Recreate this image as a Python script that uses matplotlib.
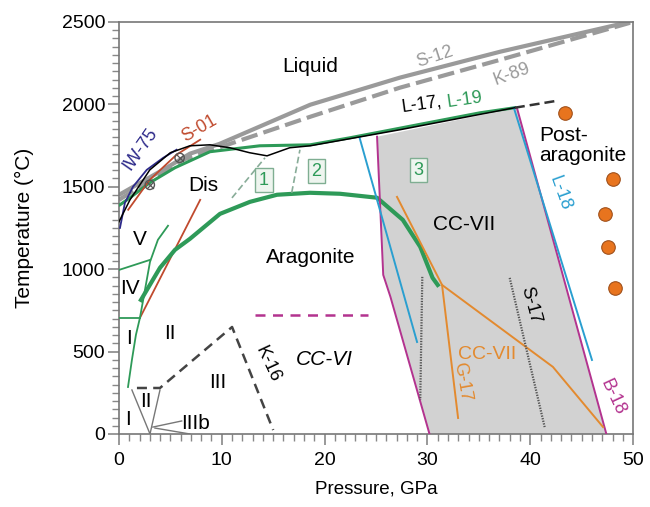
import numpy as np
import matplotlib.pyplot as plt
from matplotlib.ticker import MultipleLocator

plt.rcParams['font.family'] = ['Liberation Sans', 'DejaVu Sans']

# melting curves
s12_p = [0, 4.5, 6.9, 9.8, 18.6, 27.3, 37.1, 49.7]
s12_t = [1450, 1610, 1700, 1760, 1997, 2161, 2319, 2500]
k89_p = [0, 6.2, 18.6, 27.3, 37.1, 49.7]
k89_t = [1420, 1663, 1924, 2100, 2270, 2494]

# L-17 (black)
l17_p = [0, 1.07, 3.0, 5.0, 6.9, 8.85, 10.8, 12.7, 14.4, 16.6, 18.6, 27.3, 38.5]
l17_t = [1287, 1420, 1602, 1706, 1748, 1754, 1736, 1706, 1687, 1736, 1748, 1845, 1979]
l17_ext_p = [38.5, 42.6]
l17_ext_t = [1979, 2021]

# IW-75
iw75_p = [0.1, 0.58, 1.36, 2.7, 4.3, 5.6]
iw75_t = [1250, 1402, 1499, 1602, 1675, 1724]

# S-01
s01_p = [0.9, 3.0, 5.6, 7.9]
s01_t = [1360, 1542, 1694, 1785]
s01_low_p = [2.04, 7.9]
s01_low_t = [704, 1420]

# L-19 (green)
dis_top_p = [0.1, 1.07, 3.0, 5.45, 8.85, 13.7, 18.6, 22.5, 35.1, 38.5]
dis_top_t = [1390, 1433, 1524, 1615, 1712, 1748, 1754, 1797, 1948, 1979]
arag_p = [2.14, 3.99, 5.45, 6.91, 9.82, 12.74, 15.37, 18.58, 21.5, 25.1, 27.6, 29.3, 30.5, 31.0]
arag_t = [813, 1008, 1117, 1184, 1335, 1408, 1451, 1463, 1457, 1433, 1299, 1135, 947, 904]
cc_p = [0.88, 1.26, 1.65, 2.04, 2.53, 3.02, 3.79, 4.77]
cc_t = [285, 449, 601, 704, 874, 1044, 1178, 1263]
i_iv_p = [0, 2.04]
i_iv_t = [704, 704]
iv_v_p = [0, 3.02]
iv_v_t = [995, 1056]
b1_p = [10.99, 14.2]
b1_t = [1432, 1675]
b2_p = [16.8, 17.6]
b2_t = [1463, 1724]

# B-18 (magenta)
b18_left_p = [25.1, 25.7, 26.4, 30.2]
b18_left_t = [1803, 965, 832, 0]
b18_right_p = [38.7, 47.4]
b18_right_t = [1979, 0]
ccvi_p = [13.2, 24.2]
ccvi_t = [722, 722]

# L-18 (blue)
l18_left_p = [23.4, 28.99]
l18_left_t = [1797, 558]
l18_right_p = [38.4, 46.0]
l18_right_t = [1979, 449]

# G-17 (orange)
g17_a_p = [27.04, 31.42, 32.98]
g17_a_t = [1438, 904, 97]
g17_b_p = [31.42, 42.2, 47.08]
g17_b_t = [904, 407, 42]

# S-17 (dotted)
s17_left_p = [29.5, 29.3]
s17_left_t = [953, 206]
s17_right_p = [38.0, 41.4]
s17_right_t = [947, 42]

# K-16 (dashed)
k16_p = [1.75, 3.99, 11.0, 15.0]
k16_t = [279, 279, 649, 24]

# low-pressure calcite boundaries
low_lines = [([1.26, 3.02], [267, 0]), ([3.99, 3.02], [267, 0]),
             ([3.3, 6.1], [42, 79]), ([3.5, 6.9], [36, 0])]

# CC-VII field
ccvii_p = [25.1, 38.7, 47.4, 30.2, 26.4, 25.7]
ccvii_t = [1803, 1979, 0, 0, 832, 965]

cross_p = [3.0, 5.9]
cross_t = [1511, 1675]

post_p = [43.4, 48.0, 47.3, 47.6, 48.2]
post_t = [1948, 1548, 1335, 1135, 886]

GREEN = '#2e9a58'
PINK = '#b3338f'
BLUE = '#2a9fd0'
ORANGE = '#e38a2f'
GREY = '#9a9a9a'
NAVY = '#2d2a8a'
RED = '#c04a2e'

fig = plt.figure(figsize=(6.5, 5.07), dpi=100)
ax = fig.add_axes([0.183, 0.144, 0.791, 0.813])

ax.fill(ccvii_p, ccvii_t, color='#d2d2d2', lw=0, zorder=0)

ax.plot(s12_p, s12_t, color=GREY, lw=3, solid_capstyle='butt', zorder=2)
ax.plot(k89_p, k89_t, color=GREY, lw=3, ls=(0, (4, 1.5)), zorder=2)

ax.plot(cc_p, cc_t, color=GREEN, lw=1.3, zorder=3)
ax.plot(i_iv_p, i_iv_t, color=GREEN, lw=1.3, zorder=3)
ax.plot(iv_v_p, iv_v_t, color=GREEN, lw=1.3, zorder=3)
ax.plot(arag_p, arag_t, color=GREEN, lw=3, zorder=3)
ax.plot(dis_top_p, dis_top_t, color=GREEN, lw=2.2, zorder=3)
ax.plot(b1_p, b1_t, color='#88ac98', lw=1.2, ls=(0, (4, 2)), zorder=3)
ax.plot(b2_p, b2_t, color='#88ac98', lw=1.2, ls=(0, (4, 2)), zorder=3)

ax.plot(s01_p, s01_t, color=RED, lw=1.3, zorder=4)
ax.plot(s01_low_p, s01_low_t, color=RED, lw=1.3, zorder=2.5)
ax.plot(iw75_p, iw75_t, color=NAVY, lw=1.3, zorder=4)
ax.plot(l17_p, l17_t, color='black', lw=1.1, zorder=5)
ax.plot(l17_ext_p, l17_ext_t, color='#333333', lw=1.8, ls=(0, (4, 2)), zorder=5)

ax.plot(b18_left_p, b18_left_t, color=PINK, lw=1.4, zorder=4)
ax.plot(b18_right_p, b18_right_t, color=PINK, lw=1.4, zorder=4)
ax.plot(ccvi_p, ccvi_t, color=PINK, lw=1.8, ls=(0, (4, 3)), zorder=4)
ax.plot(l18_left_p, l18_left_t, color=BLUE, lw=1.4, zorder=4)
ax.plot(l18_right_p, l18_right_t, color=BLUE, lw=1.4, zorder=4)
ax.plot(g17_a_p, g17_a_t, color=ORANGE, lw=1.4, zorder=4)
ax.plot(g17_b_p, g17_b_t, color=ORANGE, lw=1.4, zorder=4)
ax.plot(s17_left_p, s17_left_t, color='#555555', lw=1.6, ls=(0, (0.6, 0.6)), zorder=4)
ax.plot(s17_right_p, s17_right_t, color='#555555', lw=1.6, ls=(0, (0.6, 0.6)), zorder=4)
ax.plot(k16_p, k16_t, color='#444444', lw=1.8, ls=(0, (4, 2.5)), zorder=4)
for xs, ys in low_lines:
    ax.plot(xs, ys, color='#777777', lw=1.0, zorder=3)

ax.scatter(cross_p, cross_t, s=45, facecolor='none', edgecolor='#555555', lw=1.0, zorder=6)
ax.scatter(cross_p, cross_t, s=25, marker='x', color='#555555', lw=0.9, zorder=6)
ax.scatter(post_p, post_t, s=95, color='#e8741e', edgecolor='#a0501a', lw=0.8, zorder=6)

# phase field labels
fs = 15
ax.text(18.6, 2230, 'Liquid', fontsize=fs, ha='center', va='center')
ax.text(8.2, 1510, 'Dis', fontsize=fs, ha='center', va='center')
ax.text(18.6, 1070, 'Aragonite', fontsize=fs, ha='center', va='center',
        bbox=dict(fc='white', ec='none', pad=1))
ax.text(33.6, 1270, 'CC-VII', fontsize=fs, ha='center', va='center')
ax.text(20.0, 450, 'CC-VI', fontsize=fs, ha='center', va='center', style='italic')
ax.text(2.0, 1180, 'V', fontsize=fs, ha='center', va='center')
ax.text(1.1, 885, 'IV', fontsize=fs, ha='center', va='center')
ax.text(1.0, 580, 'I', fontsize=fs, ha='center', va='center')
ax.text(5.0, 610, 'II', fontsize=fs, ha='center', va='center')
ax.text(9.6, 310, 'III', fontsize=fs, ha='center', va='center')
ax.text(2.6, 195, 'II', fontsize=fs, ha='center', va='center')
ax.text(0.9, 85, 'I', fontsize=fs, ha='center', va='center')
ax.text(7.4, 65, 'IIIb', fontsize=fs, ha='center', va='center')
ax.text(40.9, 1750, 'Post-\naragonite', fontsize=fs, ha='left', va='center',
        multialignment='left', linespacing=1.1)

# source labels
sfs = 13
ax.text(27.4, 2000, 'L-17,', fontsize=sfs, ha='left', va='center', rotation=8)
ax.text(31.8, 2025, 'L-19', fontsize=sfs, ha='left', va='center', rotation=8, color=GREEN)
ax.text(30.7, 2290, 'S-12', fontsize=sfs, ha='center', va='center', rotation=18, color=GREY)
ax.text(38.2, 2180, 'K-89', fontsize=sfs, ha='center', va='center', rotation=20, color=GREY)
ax.text(7.8, 1850, 'S-01', fontsize=sfs, ha='center', va='center', rotation=30, color=RED)
ax.text(2.1, 1730, 'IW-75', fontsize=sfs, ha='center', va='center', rotation=55, color=NAVY)
ax.text(14.5, 420, 'K-16', fontsize=sfs, ha='center', va='center', rotation=-65)
ax.text(35.8, 480, 'CC-VII', fontsize=14, ha='center', va='center', color=ORANGE)
ax.text(33.4, 315, 'G-17', fontsize=sfs, ha='center', va='center', rotation=-80, color=ORANGE)
ax.text(40.0, 780, 'S-17', fontsize=sfs, ha='center', va='center', rotation=-75)
ax.text(42.9, 1460, 'L-18', fontsize=sfs, ha='center', va='center', rotation=-70, color=BLUE)
ax.text(48.0, 220, 'B-18', fontsize=sfs, ha='center', va='center', rotation=-65, color=PINK)

# numbered boundaries
for num, px, ty in [('1', 14.1, 1540), ('2', 19.2, 1595), ('3', 29.1, 1600)]:
    ax.text(px, ty, num, fontsize=13, ha='center', va='center', color=GREEN,
            bbox=dict(fc='#eef5ef', ec='#7fae92', lw=1.0, boxstyle='square,pad=0.2'))

ax.set_xlim(0, 50)
ax.set_ylim(0, 2500)
ax.xaxis.set_major_locator(MultipleLocator(10))
ax.xaxis.set_minor_locator(MultipleLocator(1))
ax.yaxis.set_major_locator(MultipleLocator(500))
ax.yaxis.set_minor_locator(MultipleLocator(50))
ax.tick_params(which='both', direction='out', color='#888888', labelsize=14, pad=2)
ax.tick_params(axis='x', which='major', pad=5)
ax.tick_params(which='major', length=8, width=1.2)
ax.tick_params(which='minor', length=5, width=1.0)
for sp in ax.spines.values():
    sp.set_color('#777777')
    sp.set_linewidth(1.2)
ax.set_xlabel('Pressure, GPa', fontsize=13.5, labelpad=8)
ax.set_ylabel('Temperature (°C)', fontsize=15, labelpad=20)

fig.savefig('out.png', dpi=100)
